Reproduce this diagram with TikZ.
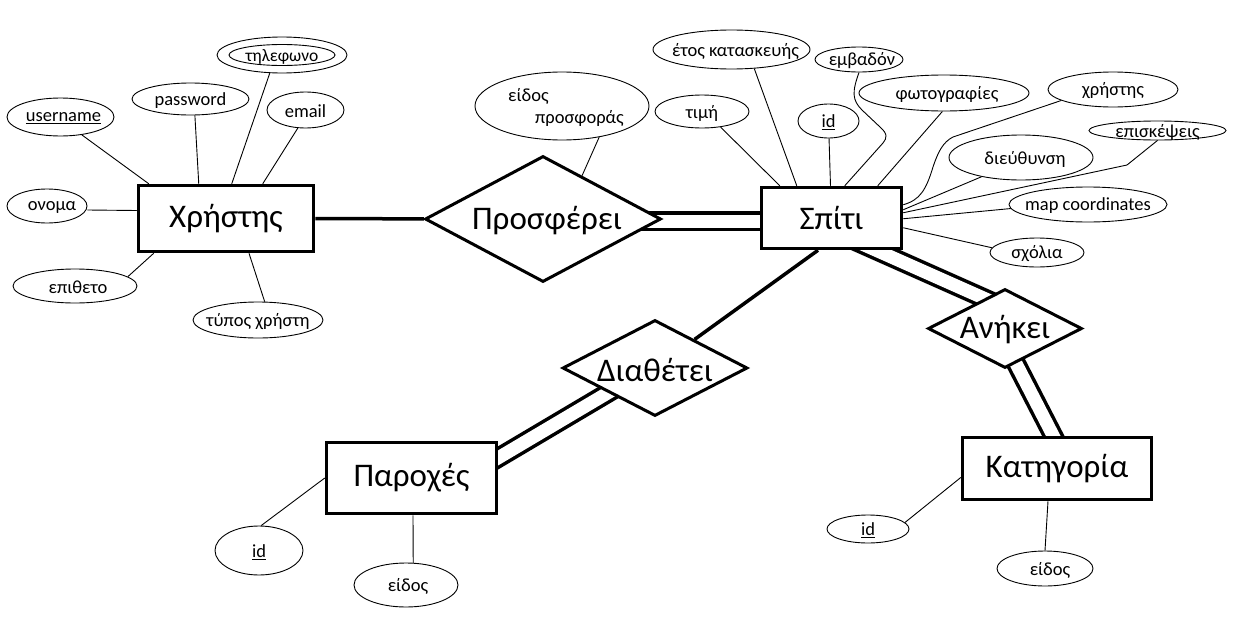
\documentclass[tikz,border=0pt]{standalone}
\usepackage{fontspec}
\setmainfont{Carlito}
\usetikzlibrary{shapes.geometric,backgrounds}
\newcommand\entfont{\fontsize{33}{38}\selectfont}
\newcommand\attfont{\fontsize{18.5}{22}\selectfont}
\begin{document}
\begin{tikzpicture}[x=1pt,y=-1pt,
  ent/.style={draw, line width=3.5pt, fill=white, inner sep=0pt, font=\entfont},
  rel/.style={diamond, draw, line width=3pt, fill=white, inner sep=0pt},
  attr/.style={ellipse, draw, line width=0.9pt, fill=white, inner sep=0pt},
  every label/.style={font=\attfont, inner sep=0pt, yshift=-1.5pt},
  thin/.style={line width=0.9pt},
  thickline/.style={line width=3.5pt},
  dbl/.style={line width=3.5pt, double, double distance=13pt},
]
\useasboundingbox (0,0) rectangle (1254,640);

% entities and relationships
\node[ent, minimum width=175pt, minimum height=66pt] (xristis) at (226,218.5) {Χρήστης};
\node[rel, minimum width=236pt, minimum height=126pt, label={[font=\entfont, xshift=4pt]center:Προσφέρει}] (prosf) at (543,219) {};
\node[ent, minimum width=140pt, minimum height=61pt] (spiti) at (831.5,218) {Σπίτι};
\node[rel, minimum width=185pt, minimum height=96pt, label={[font=\entfont]center:Διαθέτει}] (diath) at (655,368) {};
\node[rel, minimum width=154pt, minimum height=79pt, label={[font=\entfont]center:Ανήκει}] (anik) at (1005,328.5) {};
\node[ent, minimum width=170pt, minimum height=71pt] (par) at (411.5,478) {Παροχές};
\node[ent, minimum width=189pt, minimum height=62pt] (kat) at (1057,468.5) {Κατηγορία};

% attributes of Χρήστης
\node[attr, minimum width=107pt, minimum height=38pt, label={[xshift=3pt]center:\underline{username}}] (user) at (60.5,117) {};
\node[attr, minimum width=117pt, minimum height=32pt, label={center:password}] (pass) at (190.5,99) {};
\node[attr, minimum width=130pt, minimum height=36pt, label={[font=\fontsize{17.5}{21}\selectfont, yshift=-0.5pt]center:τηλεφωνο}] (tel) at (282,55) {};
\draw[thin] (tel.center) ellipse [x radius=53pt, y radius=10.5pt];
\node[attr, minimum width=77pt, minimum height=36pt, label={center:email}] (email) at (305.5,110) {};
\node[attr, minimum width=80pt, minimum height=34pt, label={[xshift=5pt]center:ονομα}] (onoma) at (47,206) {};
\node[attr, minimum width=124pt, minimum height=34pt, label={[xshift=3pt]center:επιθετο}] (epith) at (75,286) {};
\node[attr, minimum width=130pt, minimum height=36pt, label={center:τύπος χρήστη}] (typos) at (258,320) {};

% attribute of Προσφέρει
\node[attr, minimum width=174pt, minimum height=68pt, label={[xshift=4pt, align=left]center:{είδος\\\hspace*{27pt}προσφοράς}}] (eidp) at (562,106) {};

% attributes of Σπίτι
\node[attr, minimum width=94pt, minimum height=33pt, label={center:τιμή}] (timi) at (702,111.5) {};
\node[attr, minimum width=157pt, minimum height=39pt, label={[xshift=4pt]center:έτος κατασκευής}] (etos) at (731.5,49.5) {};
\node[attr, minimum width=88pt, minimum height=25pt, label={[xshift=3pt]center:εμβαδόν}] (emb) at (859,59.5) {};
\node[attr, minimum width=61pt, minimum height=34pt, label={center:\underline{id}}] (sid) at (828.5,121) {};
\node[attr, minimum width=170pt, minimum height=36pt, label={[xshift=3pt]center:φωτογραφίες}] (foto) at (944,93) {};
\node[attr, minimum width=130pt, minimum height=35pt, label={center:χρήστης}] (xr) at (1113,89.5) {};
\node[attr, minimum width=137pt, minimum height=19pt, label={center:επισκέψεις}] (epis) at (1157.5,130.5) {};
\node[attr, minimum width=144pt, minimum height=45pt, label={[xshift=4pt]center:διεύθυνση}] (dieu) at (1021,157.5) {};
\node[attr, minimum width=158pt, minimum height=35pt, label={center:map coordinates}] (map) at (1088,204.5) {};
\node[attr, minimum width=94pt, minimum height=29pt, label={center:σχόλια}] (sxol) at (1037,252.5) {};

% attributes of Παροχές
\node[attr, minimum width=88pt, minimum height=49pt, label={center:\underline{id}}] (pid) at (259,550.5) {};
\node[attr, minimum width=104pt, minimum height=44pt, label={[xshift=2pt]center:είδος}] (peid) at (406,585) {};

% attributes of Κατηγορία
\node[attr, minimum width=82pt, minimum height=28pt, label={center:\underline{id}}] (kid) at (868,529) {};
\node[attr, minimum width=96pt, minimum height=35pt, label={[xshift=5pt]center:είδος}] (keid) at (1045,568.5) {};

% attribute connectors
\draw[thin] (user.320) -- ([xshift=12pt]xristis.north west);
\draw[thin] (pass.285) -- ([xshift=62pt]xristis.north west);
\draw[thin] (tel.236) -- ([xshift=95pt]xristis.north west);
\draw[thin] (email.247) -- ([xshift=126pt]xristis.north west);
\draw[thin] ([yshift=-4pt]onoma.east) -- ([yshift=8pt]xristis.west);
\draw[thin] (epith.10) -- ([xshift=17pt]xristis.south west);
\draw[thin] (typos.70) -- ([xshift=23pt]xristis.south);

\draw[thin] (eidp.320) -- (prosf.48);

\draw[thin] (timi.320) -- ([xshift=20pt]spiti.north west);
\draw[thin] (etos.320) -- ([xshift=37pt]spiti.north west);
\draw[thin] (sid) -- (spiti);
\draw[thin] (emb.south) .. controls (852,92) and (852,100) .. (862,110) -- (880,127) .. controls (888,134) and (887,138) .. (883,143) -- ([xshift=85pt]spiti.north west);
\draw[thin] (foto.265) -- ([xshift=118pt]spiti.north west);
\draw[thin] (xr.192) -- (953,137) .. controls (943,142) and (938,152) .. (933,167) .. controls (926,190) and (920,200) .. ([yshift=-19pt]spiti.north east);
\draw[thin] (epis.south) -- (1127,165) -- ([yshift=-27pt]spiti.north east);
\draw[thin] (dieu.206) -- ([yshift=-24pt]spiti.north east);
\draw[thin] (map.183) -- ([yshift=-33pt]spiti.north east);
\draw[thin] (sxol.174) -- ([yshift=-42pt]spiti.north east);

\draw[thin] (pid.85) -- (par.west);
\draw[thin] (peid.72) -- ([xshift=1.5pt]par.south);
\draw[thin] (kid.10) -- ([yshift=-9pt]kat.west);
\draw[thin] (keid.north) -- ([xshift=-9pt]kat.south);

% relationship connectors
\draw[thickline] (xristis) -- (prosf);
\draw[thickline] (diath) -- ([xshift=-13.5pt]spiti.south);
\begin{scope}[on background layer]
\draw[dbl] ([yshift=-2pt]prosf.center) -- ([yshift=-3pt]spiti.center);
\draw[dbl] ([shift={(21.5pt,-22pt)}]spiti.center) -- ([shift={(1pt,20.5pt)}]anik.center);
\draw[dbl] ([shift={(1pt,-15.5pt)}]anik.center) -- ([shift={(3pt,19.5pt)}]kat.center);
\draw[dbl] ([shift={(64.5pt,7pt)}]par.center) -- ([shift={(-21pt,-9.4pt)}]diath.center);
\end{scope}
\end{tikzpicture}
\end{document}
